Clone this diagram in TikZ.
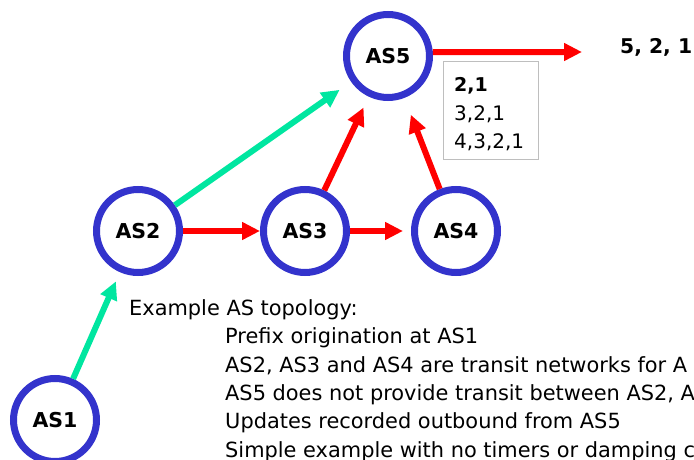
\documentclass[tikz,border=0pt]{standalone}
\usepackage{fontspec}
\setmainfont{DejaVu Sans}
\usetikzlibrary{arrows.meta}
\definecolor{asblue}{RGB}{51,51,204}
\definecolor{linkgreen}{RGB}{0,230,160}
\definecolor{linkred}{RGB}{255,0,0}
\definecolor{boxgray}{RGB}{190,190,190}
\tikzset{
  asnode/.style={circle, draw=asblue, line width=7pt, fill=white,
    minimum size=83pt, inner sep=0pt,
    font=\fontsize{20.5}{24}\selectfont\bfseries},
  link/.style={line width=6pt, -{Triangle[length=18pt,width=17pt]}},
  greenlink/.style={link, draw=linkgreen, fill=linkgreen},
  redlink/.style={link, draw=linkred, fill=linkred},
  txt/.style={anchor=base west, inner sep=0pt, font=\fontsize{20.9}{25}\selectfont},
  ribtxt/.style={anchor=base west, inner sep=0pt, font=\fontsize{20}{24}\selectfont},
  ribbold/.style={anchor=base west, inner sep=0pt, font=\fontsize{19}{23}\selectfont\bfseries},
  boldtxt/.style={anchor=base west, inner sep=0pt, font=\fontsize{20.3}{24}\selectfont\bfseries},
  ribbox/.style={draw=boxgray, line width=1pt, minimum width=95pt,
    minimum height=97pt, inner sep=0pt}
}
\begin{document}
\begin{tikzpicture}[x=1pt,y=-1pt]
\useasboundingbox (0,0) rectangle (694,460);

% AS routers
\node[asnode] (as5) at (388,56) {AS5};
\node[asnode] (as2) at (138,231) {AS2};
\node[asnode] (as3) at (305,231) {AS3};
\node[asnode] (as4) at (456,231) {AS4};
\node[asnode] (as1) at (55,420) {AS1};

% update propagation
\coordinate (outtip) at (582,52);
\draw[greenlink, shorten >=10pt] (as1) -- (as2);
\draw[greenlink, shorten >=14pt] (as2) -- (as5);
\draw[redlink] (as2) -- (as3);
\draw[redlink, shorten >=8pt] (as3) -- (as4);
\draw[redlink, shorten >=12pt] (as3) -- (as5);
\draw[redlink, shorten >=18pt] (as4) -- (as5);
\draw[redlink] (as5.5) -- (outtip);

% announced path
\node[boldtxt] (announced) at (620,54) {5, 2, 1};

% paths held at AS5
\node[ribbox] (rib) at (490.5,110.5) {};
\node[ribbold] (p1) at (454,92) {2,1};
\node[ribtxt] (p2) at (454,121) {3,2,1};
\node[ribtxt] (p3) at (454,148) {4,3,2,1};

% description
\node[txt] (c0) at (129,315) {Example AS topology:};
\node[txt] (c1) at (225,343) {Prefix origination at AS1};
\node[txt] (c2) at (225,372) {AS2, AS3 and AS4 are transit networks for A};
\node[txt] (c3) at (225,400) {AS5 does not provide transit between AS2, A};
\node[txt] (c4) at (225,428) {Updates recorded outbound from AS5};
\node[txt] (c5) at (225,457) {Simple example with no timers or damping c};
\end{tikzpicture}
\end{document}
